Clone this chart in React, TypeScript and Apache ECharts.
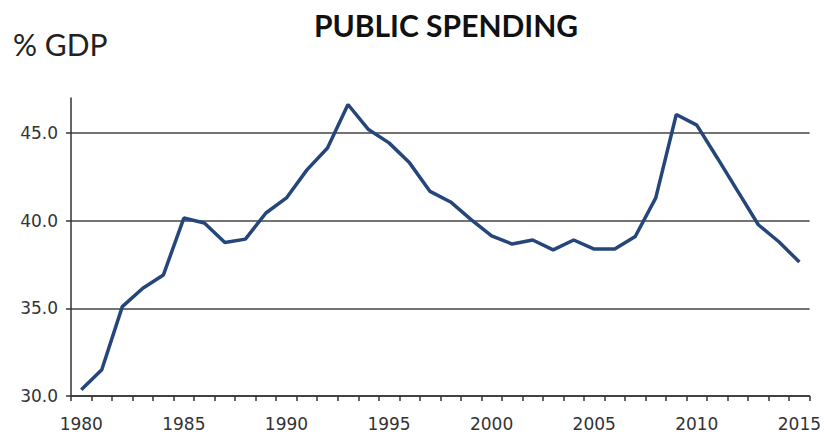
import React, { useEffect, useRef } from "react";
import * as echarts from "echarts";

const years: string[] = [
  "1980","1981","1982","1983","1984","1985","1986","1987","1988","1989",
  "1990","1991","1992","1993","1994","1995","1996","1997","1998","1999",
  "2000","2001","2002","2003","2004","2005","2006","2007","2008","2009",
  "2010","2011","2012","2013","2014","2015",
];

const spending: number[] = [
  30.35, 31.5, 35.1, 36.15, 36.9, 40.15, 39.87, 38.76, 38.95, 40.44,
  41.3, 42.9, 44.15, 46.63, 45.2, 44.44, 43.3, 41.67, 41.07, 40.06,
  39.14, 38.67, 38.9, 38.34, 38.9, 38.38, 38.38, 39.1, 41.3, 46.06,
  45.45, 43.58, 41.67, 39.77, 38.8, 37.64,
];

const titleText = "PUBLIC SPENDING";
const unitText = "% GDP";

export default function App() {
  const ref = useRef<HTMLDivElement>(null);
  useEffect(() => {
    if (!ref.current) return;
    const chart = echarts.init(ref.current, null, { renderer: "svg" });
    chart.setOption({
      animation: false,
      backgroundColor: "#ffffff",
      title: {
        text: titleText,
        left: 441,
        textAlign: "center",
        top: 5,
        textStyle: {
          fontFamily: "Lato",
          fontWeight: "bold",
          fontSize: 30,
          color: "#111111",
        },
      },
      graphic: [
        {
          type: "text",
          left: 13,
          top: 29,
          style: {
            text: unitText,
            fontFamily: "Lato",
            fontSize: 30,
            fill: "#222222",
          },
        },
      ],
      grid: { left: 71, right: 13, top: 98, bottom: 45 },
      xAxis: {
        type: "category",
        data: years,
        boundaryGap: true,
        axisLine: { lineStyle: { color: "#333333", width: 1.5 } },
        axisTick: {
          show: true,
          alignWithLabel: false,
          interval: 0,
          length: 5,
          lineStyle: { color: "#333333", width: 1.5 },
        },
        axisLabel: {
          interval: 4,
          margin: 19,
          fontFamily: "DejaVu Sans",
          fontSize: 17,
          color: "#333333",
        },
        splitLine: { show: false },
      },
      yAxis: {
        type: "value",
        min: 30,
        max: 47,
        interval: 5,
        axisLine: { show: true, lineStyle: { color: "#333333", width: 1.5 } },
        axisTick: { show: true, length: 5, lineStyle: { color: "#333333", width: 1.5 } },
        axisLabel: {
          showMaxLabel: false,
          margin: 13,
          fontFamily: "DejaVu Sans",
          fontSize: 17,
          color: "#333333",
          formatter: (v: number) => (v >= 47 ? "" : v.toFixed(1)),
        },
        splitLine: {
          show: true,
          showMaxLine: false,
          lineStyle: { color: "#444444", width: 1.5 },
        },
      },
      series: [
        {
          type: "line",
          data: spending,
          symbol: "none",
          lineStyle: { color: "#25467a", width: 3.5 },
        },
      ],
    });
    return () => chart.dispose();
  }, []);
  return <div ref={ref} style={{ width: 824, height: 441, position: "absolute", left: 0, top: 0 }} />;
}
